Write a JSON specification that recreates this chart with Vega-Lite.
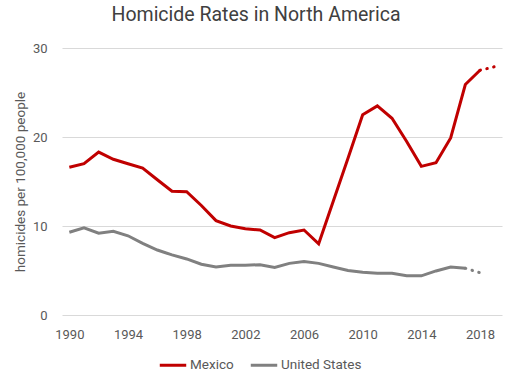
{
  "$schema": "https://vega.github.io/schema/vega-lite/v6.json",
  "width": 440,
  "height": 267,
  "autosize": {"type": "none"},
  "padding": {"left": 62, "top": 48, "right": 10, "bottom": 64},
  "background": "white",
  "title": {"text": "Homicide Rates in North America", "anchor": "middle", "dx": -26, "offset": 17, "fontSize": 19.5, "font": "Roboto", "fontWeight": "normal", "color": "#404040"},
  "config": {"view": {"stroke": null}, "font": "Roboto"},
  "datasets": {
    "actual": [
      {"country": "Mexico", "year": 1990, "rate": 16.6},
      {"country": "Mexico", "year": 1991, "rate": 17.0},
      {"country": "Mexico", "year": 1992, "rate": 18.3},
      {"country": "Mexico", "year": 1993, "rate": 17.5},
      {"country": "Mexico", "year": 1994, "rate": 17.0},
      {"country": "Mexico", "year": 1995, "rate": 16.5},
      {"country": "Mexico", "year": 1996, "rate": 15.2},
      {"country": "Mexico", "year": 1997, "rate": 13.9},
      {"country": "Mexico", "year": 1998, "rate": 13.85},
      {"country": "Mexico", "year": 1999, "rate": 12.3},
      {"country": "Mexico", "year": 2000, "rate": 10.6},
      {"country": "Mexico", "year": 2001, "rate": 10.0},
      {"country": "Mexico", "year": 2002, "rate": 9.7},
      {"country": "Mexico", "year": 2003, "rate": 9.55},
      {"country": "Mexico", "year": 2004, "rate": 8.7},
      {"country": "Mexico", "year": 2005, "rate": 9.25},
      {"country": "Mexico", "year": 2006, "rate": 9.55},
      {"country": "Mexico", "year": 2007, "rate": 8.0},
      {"country": "Mexico", "year": 2008, "rate": 12.8},
      {"country": "Mexico", "year": 2009, "rate": 17.6},
      {"country": "Mexico", "year": 2010, "rate": 22.5},
      {"country": "Mexico", "year": 2011, "rate": 23.5},
      {"country": "Mexico", "year": 2012, "rate": 22.1},
      {"country": "Mexico", "year": 2013, "rate": 19.5},
      {"country": "Mexico", "year": 2014, "rate": 16.7},
      {"country": "Mexico", "year": 2015, "rate": 17.1},
      {"country": "Mexico", "year": 2016, "rate": 19.9},
      {"country": "Mexico", "year": 2017, "rate": 25.9},
      {"country": "Mexico", "year": 2018, "rate": 27.5},
      {"country": "United States", "year": 1990, "rate": 9.3},
      {"country": "United States", "year": 1991, "rate": 9.8},
      {"country": "United States", "year": 1992, "rate": 9.2},
      {"country": "United States", "year": 1993, "rate": 9.4},
      {"country": "United States", "year": 1994, "rate": 8.9},
      {"country": "United States", "year": 1995, "rate": 8.05},
      {"country": "United States", "year": 1996, "rate": 7.3},
      {"country": "United States", "year": 1997, "rate": 6.75},
      {"country": "United States", "year": 1998, "rate": 6.3},
      {"country": "United States", "year": 1999, "rate": 5.7},
      {"country": "United States", "year": 2000, "rate": 5.4},
      {"country": "United States", "year": 2001, "rate": 5.6},
      {"country": "United States", "year": 2002, "rate": 5.6},
      {"country": "United States", "year": 2003, "rate": 5.65},
      {"country": "United States", "year": 2004, "rate": 5.35},
      {"country": "United States", "year": 2005, "rate": 5.8},
      {"country": "United States", "year": 2006, "rate": 6.0},
      {"country": "United States", "year": 2007, "rate": 5.8},
      {"country": "United States", "year": 2008, "rate": 5.4},
      {"country": "United States", "year": 2009, "rate": 5.0},
      {"country": "United States", "year": 2010, "rate": 4.8},
      {"country": "United States", "year": 2011, "rate": 4.7},
      {"country": "United States", "year": 2012, "rate": 4.7},
      {"country": "United States", "year": 2013, "rate": 4.4},
      {"country": "United States", "year": 2014, "rate": 4.4},
      {"country": "United States", "year": 2015, "rate": 4.95},
      {"country": "United States", "year": 2016, "rate": 5.4},
      {"country": "United States", "year": 2017, "rate": 5.25}
    ],
    "projected": [
      {"country": "Mexico", "year": 2018, "rate": 27.5},
      {"country": "Mexico", "year": 2019, "rate": 27.9},
      {"country": "United States", "year": 2017, "rate": 5.25},
      {"country": "United States", "year": 2018, "rate": 4.75}
    ]
  },
  "encoding": {
    "x": {
      "field": "year", "type": "quantitative",
      "scale": {"domain": [1989.5, 2019.5], "nice": false, "zero": false},
      "axis": {"title": null, "values": [1990, 1994, 1998, 2002, 2006, 2010, 2014, 2018], "format": "d", "grid": false, "ticks": false, "domain": false, "labelPadding": 13, "labelFontSize": 13, "labelColor": "#595959", "labelFont": "Roboto"}
    },
    "y": {
      "field": "rate", "type": "quantitative",
      "scale": {"domain": [0, 30], "nice": false},
      "axis": {"title": "homicides per 100,000 people", "values": [0, 10, 20, 30], "grid": true, "gridColor": "#d9d9d9", "gridWidth": 1, "ticks": false, "domain": false, "labelPadding": 15, "labelFontSize": 13, "labelColor": "#595959", "labelFont": "Roboto", "titleFontSize": 13.5, "titleFontWeight": "normal", "titleColor": "#595959", "titleFont": "Roboto", "titlePadding": 5}
    },
    "color": {
      "field": "country", "type": "nominal",
      "scale": {"domain": ["Mexico", "United States"], "range": ["#c00000", "#808080"]},
      "legend": {"title": null, "orient": "none", "legendX": 96, "legendY": 302, "direction": "horizontal", "symbolType": "stroke", "symbolStrokeWidth": 3, "symbolSize": 700, "labelFontSize": 13.5, "labelColor": "#595959", "labelFont": "Roboto", "labelOffset": 2, "columnPadding": 10}
    }
  },
  "layer": [
    {"data": {"name": "actual"}, "mark": {"type": "line", "strokeWidth": 3, "strokeJoin": "miter"}},
    {"data": {"name": "projected"}, "mark": {"type": "line", "strokeWidth": 3, "strokeDash": [0.5, 6.5], "strokeCap": "round"}}
  ]
}
